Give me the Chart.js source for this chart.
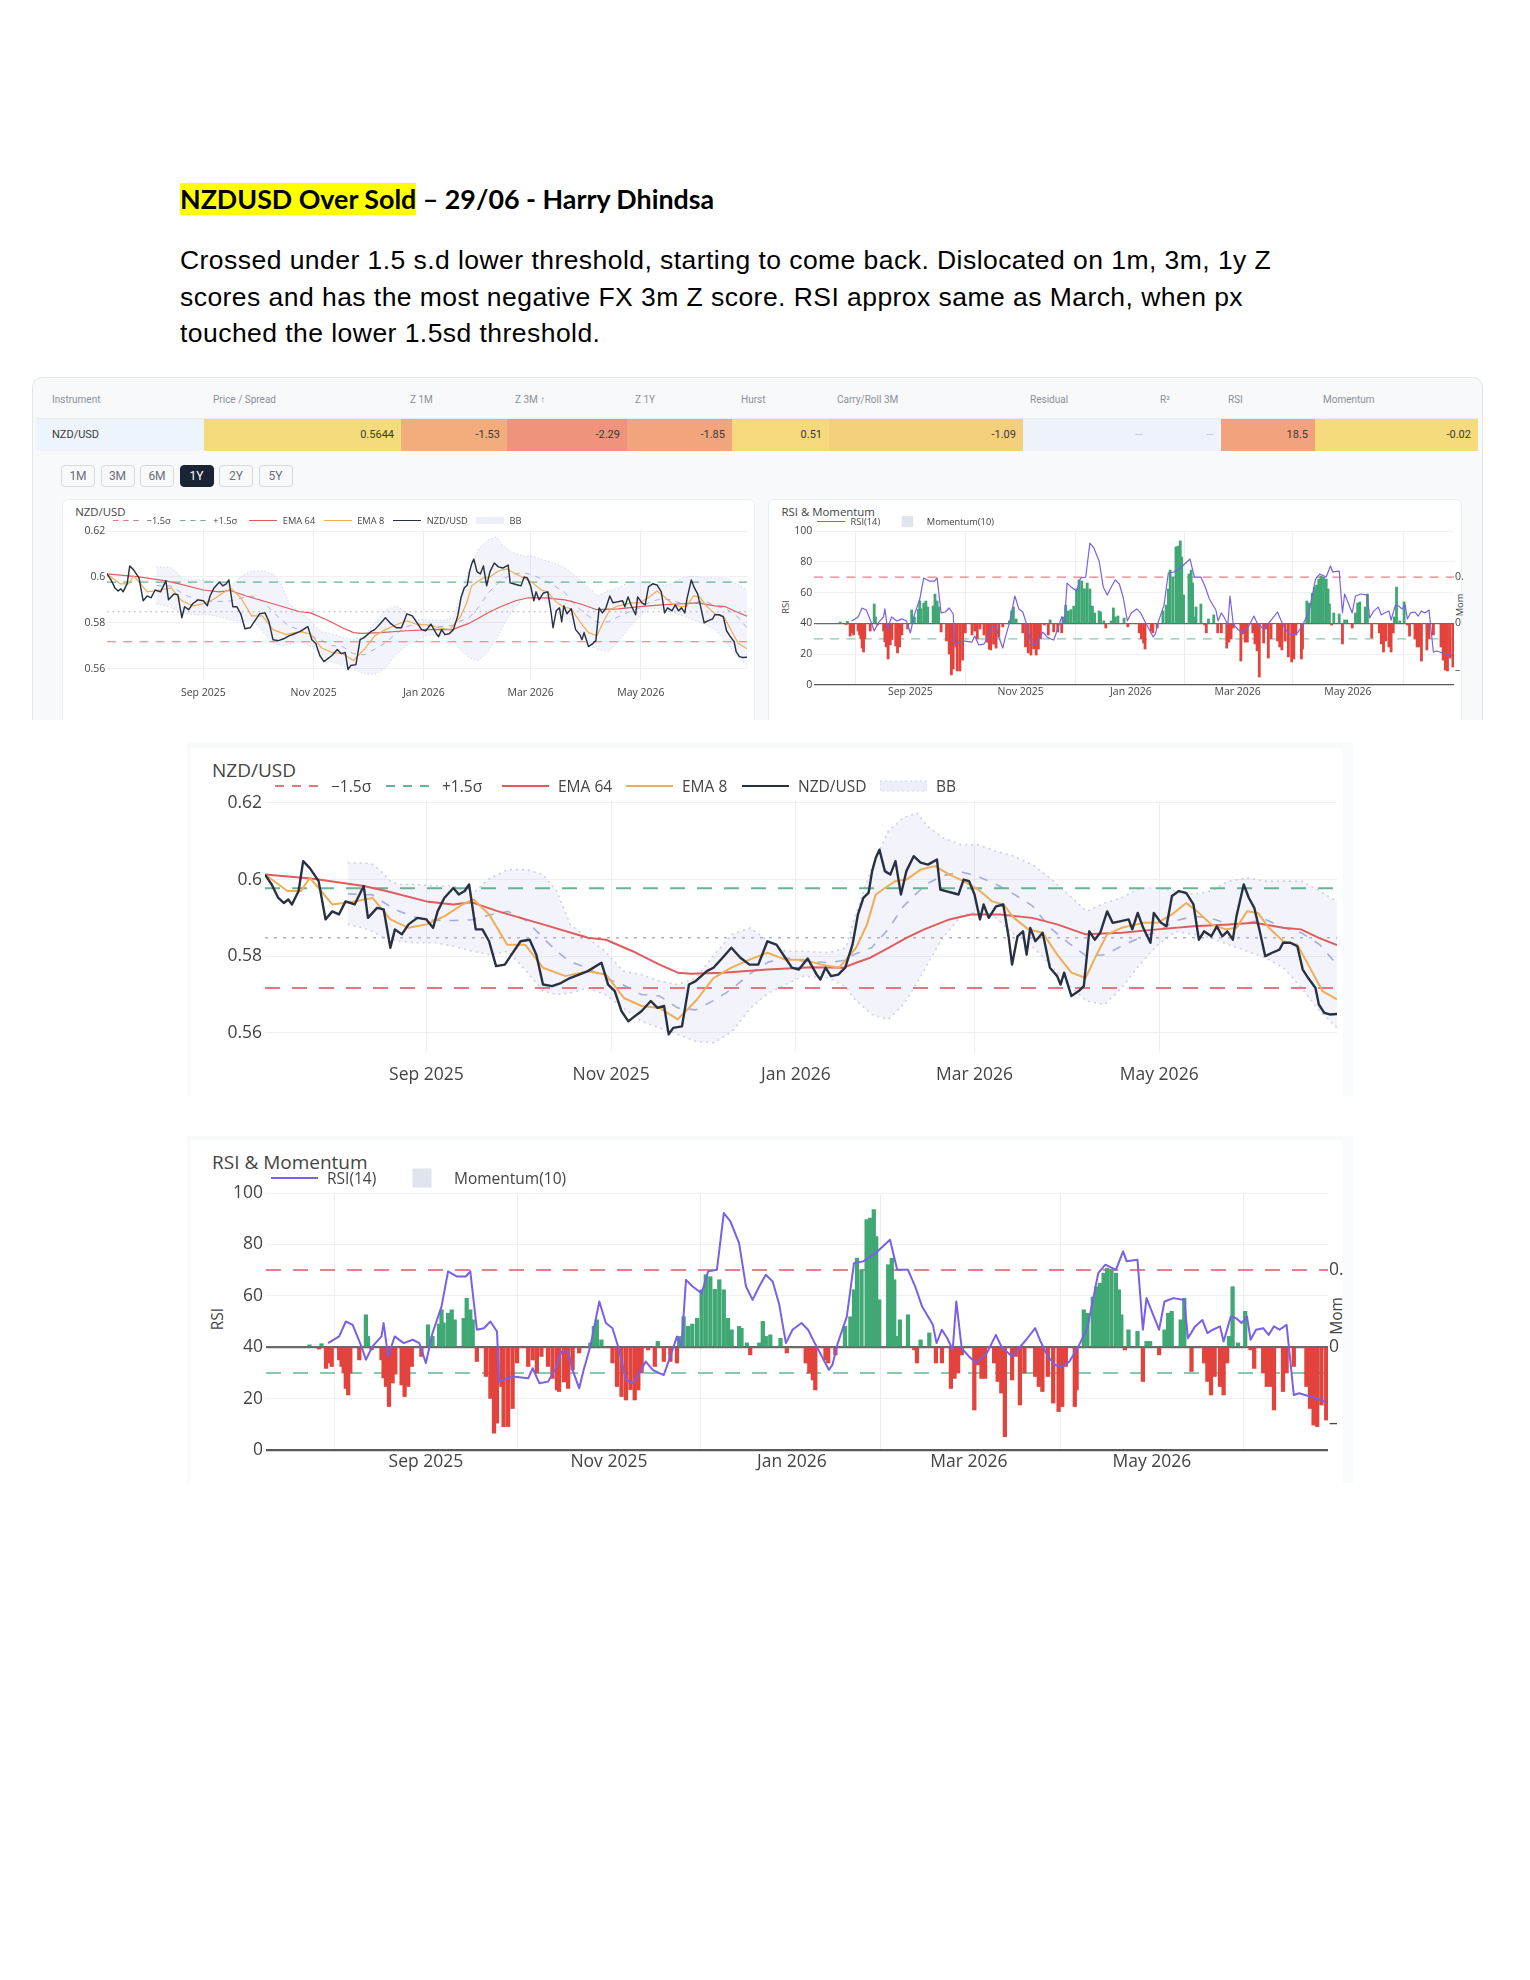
<!DOCTYPE html>
<html>
<head>
<meta charset="utf-8">
<script src="https://cdn.jsdelivr.net/npm/chart.js@4.4.1/dist/chart.umd.min.js"></script>
<style>
  body { margin: 0; background: #fff; }
  #page { position: relative; width: 1530px; height: 1980px; overflow: hidden; font-family: "Open Sans", sans-serif; color: #444; }
  .abs { position: absolute; }
  #title { left: 180px; top: 183px; font-family: Lato, sans-serif; font-weight: 700; font-size: 26.8px; line-height: 33px; color: #000; white-space: nowrap; }
  #title .hl { background: #ffff00; }
  #para { left: 180px; top: 242px; font-family: "Liberation Sans", Arial, sans-serif; font-size: 26.5px; letter-spacing: 0.45px; line-height: 36.6px; color: #000; white-space: nowrap; }
  #panel { left: 32px; top: 377px; width: 1451px; height: 343px; background: #f8f9fb; border: 1px solid #e3e6ec; border-bottom: none; border-radius: 10px 10px 0 0; box-sizing: border-box; overflow: hidden; }
  .th { font-family: Roboto, sans-serif; font-size: 10px; color: #8a9099; top: 394px; white-space: nowrap; }
  .td { top: 419px; height: 32px; line-height: 32px; font-family: Roboto, sans-serif; font-size: 11px; color: #3a3a3a; box-sizing: border-box; padding-right: 7px; text-align: right; white-space: nowrap; }
  .btn { top: 465px; width: 34px; height: 22px; line-height: 21px; box-sizing: border-box; border: 1px solid #d6dae1; border-radius: 4px; background: #f8f9fb; font-family: Roboto, sans-serif; font-size: 12px; color: #6a6f78; text-align: center; }
  .btn.on { background: #1b2435; color: #fff; border-color: #1b2435; }
  .card { background: #fff; border: 1px solid #eceef2; border-radius: 6px; box-sizing: border-box; }
  .ctitle { white-space: nowrap; color: #444; transform: translateY(-50%); }
  .lg { display: flex; align-items: center; white-space: nowrap; color: #444; transform: translateY(-50%); z-index: 2; }
  .rot { white-space: nowrap; color: #444; transform: translate(-50%, -50%) rotate(-90deg); }
  canvas { position: absolute; }
</style>
</head>
<body>
<div id="page">
  <div id="title" class="abs"><span class="hl">NZDUSD Over Sold</span> – 29/06 - Harry Dhindsa</div>
  <div id="para" class="abs">Crossed under 1.5 s.d lower threshold, starting to come back. Dislocated on 1m, 3m, 1y Z<br>scores and has the most negative FX 3m Z score. RSI approx same as March, when px<br>touched the lower 1.5sd threshold.</div>
  <div id="panel" class="abs"></div>
  <div class="abs card" style="left:62px;top:499px;width:693px;height:240px;"></div>
  <div class="abs card" style="left:768px;top:499px;width:694px;height:240px;"></div>
  <div class="abs" style="left:0;top:720px;width:1530px;height:20px;background:#fff;"></div>
  <div class="abs" style="left:187px;top:742px;width:1166px;height:354px;background:#f9fafc;"></div>
  <div class="abs" style="left:190px;top:748px;width:1153px;height:348px;background:#fff;"></div>
  <div class="abs" style="left:187px;top:1136px;width:1166px;height:347px;background:#f9fafc;"></div>
  <div class="abs" style="left:190px;top:1140px;width:1153px;height:343px;background:#fff;"></div>
</div>
<script>
// ---- x axis (days counted from 1 Sep 2025) ----
const xTickDays = [0, 61, 122, 181, 242];
const xTickLabels = ['Sep 2025', 'Nov 2025', 'Jan 2026', 'Mar 2026', 'May 2026'];
const xMin = -53.3, xMax = 300.7;

// ---- NZD/USD price ----
const priceDays = [-53.3,-51.1,-48.9,-47.1,-45.6,-44.4,-42.2,-40.7,-38.5,-35.6,-33.3,-31.1,-28.9,-26.7,-23.7,-20.7,-19.3,-16.3,-14.1,-11.9,-10.4,-8.1,-5.9,-3.0,0.0,2.2,3.7,5.9,8.9,10.7,12.6,14.1,16.3,18.5,20.7,23.0,25.9,28.1,31.1,34.1,36.3,38.5,41.5,44.4,47.4,50.4,53.3,57.8,60.0,62.2,64.4,66.7,68.1,71.1,74.1,76.3,78.5,80.0,81.5,84.4,86.7,88.9,92.6,94.8,97.8,100.7,103.7,106.7,109.6,112.6,115.6,118.5,120.7,123.0,125.9,128.9,130.1,131.8,133.6,136.0,138.3,140.7,142.5,144.3,146.0,147.2,148.4,149.6,151.4,153.2,154.9,156.7,158.5,160.9,163.2,165.6,168.6,169.7,171.5,173.9,175.7,177.4,179.2,181.0,182.8,184.0,185.7,188.1,190.5,192.3,193.4,195.2,197.0,198.2,199.4,201.1,203.5,205.9,208.3,209.4,210.6,213.0,215.4,217.1,218.9,220.7,222.5,224.8,226.6,229.0,231.9,233.1,234.9,236.7,239.1,240.2,242.6,244.4,246.2,248.5,250.9,253.3,255.1,256.8,259.2,261.0,262.8,264.5,266.3,267.5,269.9,271.6,273.4,275.2,277.0,279.3,281.7,282.9,285.3,287.6,289.4,291.2,293.6,294.7,296.5,298.3,300.7];
const priceVals = [0.6013,0.5987,0.5952,0.5939,0.5948,0.5935,0.5970,0.6048,0.6030,0.5996,0.5896,0.5917,0.5909,0.5943,0.5935,0.5983,0.5900,0.5926,0.5922,0.5822,0.5870,0.5857,0.5883,0.5900,0.5896,0.5874,0.5917,0.5952,0.5978,0.5961,0.5970,0.5987,0.5870,0.5870,0.5839,0.5774,0.5778,0.5804,0.5839,0.5843,0.5804,0.5726,0.5722,0.5730,0.5743,0.5752,0.5761,0.5783,0.5726,0.5709,0.5657,0.5630,0.5639,0.5657,0.5683,0.5665,0.5670,0.5596,0.5613,0.5617,0.5726,0.5735,0.5761,0.5770,0.5796,0.5822,0.5796,0.5778,0.5778,0.5839,0.5830,0.5796,0.5770,0.5765,0.5794,0.5752,0.5739,0.5770,0.5748,0.5752,0.5770,0.5830,0.5909,0.5952,0.5965,0.6022,0.6057,0.6078,0.6022,0.6013,0.6048,0.5961,0.6022,0.6061,0.6044,0.6039,0.6052,0.5974,0.5970,0.5965,0.5961,0.6000,0.5996,0.5961,0.5896,0.5935,0.5900,0.5930,0.5935,0.5848,0.5778,0.5852,0.5865,0.5804,0.5874,0.5839,0.5861,0.5770,0.5748,0.5726,0.5757,0.5696,0.5709,0.5722,0.5865,0.5843,0.5861,0.5917,0.5887,0.5891,0.5896,0.5870,0.5913,0.5874,0.5835,0.5913,0.5887,0.5878,0.5957,0.5970,0.5965,0.5935,0.5843,0.5865,0.5852,0.5878,0.5852,0.5865,0.5843,0.5904,0.5987,0.5952,0.5926,0.5865,0.5800,0.5809,0.5817,0.5835,0.5835,0.5826,0.5765,0.5743,0.5717,0.5674,0.5652,0.5648,0.5649];

// ---- EMA 64 ----
const ema64Days = [-53.3,-40.0,-35.6,-20.7,-13.3,0.0,8.9,14.8,23.7,38.5,53.3,59.3,68.1,77.0,83.0,87.4,97.8,112.6,127.4,137.8,141.9,146.6,152.6,158.5,164.4,172.7,179.8,189.3,200.0,208.3,217.7,229.6,241.4,253.3,265.1,273.4,282.9,288.8,294.7,300.7];
const ema64Vals = [0.6013,0.6004,0.6000,0.5983,0.5970,0.5943,0.5935,0.5941,0.5917,0.5883,0.5848,0.5843,0.5813,0.5778,0.5757,0.5754,0.5757,0.5765,0.5771,0.5770,0.5783,0.5796,0.5822,0.5848,0.5870,0.5896,0.5909,0.5909,0.5900,0.5883,0.5857,0.5861,0.5870,0.5878,0.5883,0.5887,0.5874,0.5870,0.5848,0.5829];

// ---- EMA 8 ----
const ema8Days = [-53.3,-45.9,-41.5,-38.5,-35.6,-31.1,-23.7,-17.8,-11.9,-5.9,0.0,5.9,11.9,15.6,20.7,26.7,32.6,38.5,45.9,53.3,59.3,65.2,71.1,77.0,83.0,88.9,94.8,100.7,106.7,112.6,118.5,124.4,130.4,136.3,141.9,145.5,148.4,151.4,154.9,158.5,163.2,168.0,172.7,177.4,182.2,186.9,190.5,194.0,198.8,203.5,208.3,213.0,217.7,221.3,224.8,229.6,236.7,241.4,246.2,250.9,254.5,259.2,264.0,267.5,271.0,274.6,278.2,282.9,287.6,291.2,295.9,300.7];
const ema8Vals = [0.6013,0.5970,0.5970,0.6004,0.5978,0.5935,0.5943,0.5952,0.5896,0.5874,0.5883,0.5904,0.5935,0.5948,0.5909,0.5830,0.5830,0.5770,0.5748,0.5761,0.5752,0.5691,0.5670,0.5665,0.5635,0.5683,0.5743,0.5770,0.5791,0.5809,0.5791,0.5791,0.5778,0.5770,0.5822,0.5883,0.5961,0.5978,0.5996,0.6000,0.6026,0.6035,0.6013,0.5996,0.5974,0.5943,0.5935,0.5900,0.5870,0.5861,0.5804,0.5757,0.5743,0.5804,0.5857,0.5874,0.5887,0.5887,0.5909,0.5939,0.5917,0.5883,0.5870,0.5874,0.5917,0.5913,0.5874,0.5839,0.5830,0.5778,0.5709,0.5687];

// ---- Bollinger bands ----
const bbDays = [-26,-21,-18,-15,-12,-9,-3,3,9,15,21,27,33,38.5,43,47.5,53,59,65,71,77,83,89,95,101,107,113,118.5,124.5,133,138.5,141,147,152.5,157.5,162,165.5,170.5,176.5,182,188,194,200,206,212,218,224,229.5,235.5,241.5,247.5,253.5,259,265,271,277,283,289,295,300.7];
const bbUpper = [0.6044,0.6043,0.6041,0.6022,0.5996,0.5987,0.5987,0.5983,0.5983,0.5961,0.6004,0.6026,0.6026,0.6013,0.5970,0.5883,0.5848,0.5813,0.5761,0.5752,0.5735,0.5726,0.5743,0.5804,0.5857,0.5874,0.5839,0.5813,0.5813,0.5809,0.5822,0.5891,0.6030,0.6126,0.6161,0.6174,0.6139,0.6109,0.6091,0.6091,0.6074,0.6061,0.6039,0.6004,0.5961,0.5917,0.5939,0.5952,0.5978,0.5978,0.5970,0.5961,0.5970,0.5996,0.6004,0.5996,0.5996,0.5996,0.5970,0.5943];
const bbLower = [0.5883,0.5874,0.5865,0.5852,0.5845,0.5839,0.5835,0.5835,0.5826,0.5813,0.5804,0.5813,0.5761,0.5709,0.5700,0.5704,0.5717,0.5700,0.5665,0.5630,0.5613,0.5596,0.5578,0.5574,0.5604,0.5665,0.5704,0.5726,0.5748,0.5743,0.5720,0.5691,0.5648,0.5635,0.5674,0.5730,0.5780,0.5848,0.5904,0.5917,0.5900,0.5857,0.5826,0.5778,0.5726,0.5683,0.5674,0.5717,0.5778,0.5830,0.5865,0.5857,0.5848,0.5830,0.5813,0.5796,0.5770,0.5717,0.5657,0.5613];
const bbMid = [0.5963,0.5960,0.5961,0.5945,0.5930,0.5917,0.5900,0.5893,0.5893,0.5895,0.5908,0.5917,0.5893,0.5848,0.5813,0.5785,0.5770,0.5743,0.5725,0.5700,0.5696,0.5665,0.5660,0.5685,0.5715,0.5755,0.5785,0.5796,0.5787,0.5783,0.5790,0.5804,0.5822,0.5870,0.5930,0.5965,0.5990,0.6010,0.6020,0.6009,0.5988,0.5962,0.5932,0.5874,0.5835,0.5800,0.5804,0.5826,0.5848,0.5865,0.5893,0.5904,0.5900,0.5883,0.5887,0.5896,0.5874,0.5861,0.5830,0.5778];

// ---- -1.5σ, mean, +1.5σ ----
const bandLevels = [0.5717, 0.5848, 0.5977];
const priceTicks = [0.56, 0.58, 0.6, 0.62];
const priceTickLabels = ['0.56', '0.58', '0.6', '0.62'];

// ---- RSI(14) ----
const rsiDays = [-32.6,-28.9,-26.7,-24.4,-21.5,-20.0,-17.8,-14.8,-14.1,-12.6,-10.4,-7.4,-4.4,-2.2,0.0,2.2,5.2,7.4,10.4,13.3,14.8,17.0,19.3,21.5,23.7,24.4,28.9,34.1,35.6,37.8,40.7,43.0,45.2,47.4,48.9,51.1,52.6,54.8,57.8,60.0,62.2,64.4,66.7,68.9,71.1,73.3,75.6,77.8,79.3,81.5,83.7,85.2,86.7,88.9,91.9,94.1,97.0,99.3,101.5,104.4,106.7,108.9,111.1,113.3,115.6,117.8,120.0,122.2,125.2,127.4,129.6,132.0,134.3,135.5,137.3,140.3,142.7,145.7,149.3,152.3,154.7,157.1,160.7,163.1,165.4,169.0,170.2,172.0,173.8,175.6,176.8,178.6,181.0,183.4,187.0,190.0,191.8,195.4,200.1,203.1,204.9,207.3,209.7,212.1,214.5,217.5,220.5,224.1,226.5,230.0,232.4,233.6,237.2,239.0,240.2,244.4,246.2,249.2,252.8,254.0,256.4,258.8,260.5,262.3,264.7,265.9,268.3,270.1,271.9,273.7,274.9,276.7,279.1,280.9,282.7,284.5,286.9,289.3,291.1,294.7,297.1,300.1];
const rsiVals = [41.6,44.2,50.0,48.7,40.3,35.1,40.3,44.2,49.4,36.4,44.2,41.6,42.9,41.6,33.8,45.5,55.8,69.5,67.5,67.5,69.5,46.8,47.4,50.0,46.1,26.6,28.6,27.9,31.8,26.0,26.6,31.2,38.3,38.3,31.2,24.0,31.2,40.3,57.8,49.4,47.4,39.0,27.3,26.0,29.9,34.4,31.2,29.9,29.2,36.4,44.2,40.3,66.2,63.6,61.0,69.5,70.1,92.2,89.0,80.5,63.6,58.4,63.6,68.2,65.6,56.5,41.6,46.8,49.4,46.8,41.6,36.4,31.2,33.1,41.6,51.9,72.7,73.4,76.0,79.2,81.8,70.1,70.1,63.6,55.8,48.7,41.6,46.8,43.5,39.0,57.8,39.6,36.4,33.8,37.7,44.8,40.3,36.4,42.9,47.4,42.2,36.4,33.1,32.5,34.4,40.3,47.4,68.8,72.1,70.1,77.3,73.4,74.0,46.8,59.1,46.8,57.8,59.1,58.4,43.5,48.1,50.6,45.5,46.8,48.1,42.2,51.9,51.3,49.4,51.9,42.9,46.8,47.4,44.8,48.1,46.8,48.7,21.4,22.1,20.8,20.1,18.5];
const rsiLevels = [30, 70];
const rsiTicks = [0, 20, 40, 60, 80, 100];

// ---- Momentum(10) ----
const momDays = [-38.8,-35.6,-34.8,-33.3,-32.3,-31.4,-28.9,-28.1,-27.4,-26.7,-25.9,-25.2,-22.2,-20.0,-19.3,-18.1,-14.8,-14.1,-13.3,-12.3,-11.1,-10.2,-8.1,-7.1,-5.9,-4.7,-1.5,0.7,2.2,4.4,5.2,5.9,7.4,8.6,9.6,12.6,13.6,14.8,15.6,17.0,20.0,21.5,22.7,23.7,25.2,25.9,27.4,28.9,30.4,34.1,35.6,37.0,38.5,40.7,42.2,43.7,44.4,46.0,47.4,48.9,51.1,54.8,56.0,57.0,58.5,62.2,63.7,65.2,66.7,68.2,69.6,70.8,71.9,74.1,76.3,77.3,79.3,81.5,83.7,84.4,85.9,87.4,88.8,90.4,91.9,93.3,94.8,96.3,97.8,99.3,100.7,101.9,104.4,105.2,107.0,108.1,111.1,112.3,113.3,114.8,118.2,120.3,126.6,127.8,129.0,129.8,133.2,134.1,136.5,139.7,141.5,142.7,143.7,145.2,146.9,148.1,149.3,150.1,151.1,154.1,155.3,156.1,156.8,158.0,160.7,162.8,163.7,164.9,167.8,170.0,172.0,175.0,176.2,177.4,178.6,182.8,184.0,185.2,186.4,189.4,190.6,191.8,193.0,195.4,196.6,198.0,199.5,203.1,204.3,205.5,207.3,209.1,210.9,212.1,213.3,216.3,216.9,219.3,220.5,222.3,223.5,224.7,225.9,227.1,228.5,230.0,231.0,231.8,233.0,234.2,237.2,239.0,240.2,241.4,244.4,246.2,247.4,248.6,251.6,252.8,255.2,259.4,260.5,261.7,262.9,264.7,265.9,267.1,267.7,268.9,270.7,273.1,274.9,276.1,279.1,280.3,281.5,282.7,285.7,286.9,289.3,293.5,294.7,295.9,297.1,298.5,300.1];
const momVals = [0.0006,-0.0005,0.0009,-0.0055,-0.0041,-0.0050,-0.0033,-0.0050,-0.0067,-0.0107,-0.0124,-0.0067,-0.0033,0.0084,0.0028,-0.0007,-0.0033,-0.0080,-0.0102,-0.0154,-0.0093,-0.0070,-0.0098,-0.0128,-0.0102,-0.0050,-0.0024,0.0058,0.0028,0.0060,0.0097,0.0063,0.0088,0.0097,0.0071,0.0075,0.0127,0.0097,0.0071,-0.0037,-0.0076,-0.0133,-0.0223,-0.0197,-0.0102,-0.0206,-0.0206,-0.0159,-0.0041,-0.0050,-0.0033,-0.0067,-0.0024,-0.0050,-0.0081,-0.0111,-0.0115,-0.0090,-0.0107,-0.0059,-0.0015,0.0011,0.0054,0.0071,0.0019,-0.0041,-0.0102,-0.0128,-0.0137,-0.0110,-0.0137,-0.0111,-0.0067,-0.0007,-0.0050,0.0015,-0.0037,-0.0037,-0.0041,0.0028,0.0079,0.0054,0.0060,0.0075,0.0149,0.0188,0.0183,0.0150,0.0175,0.0149,0.0075,0.0045,0.0054,0.0049,0.0011,-0.0020,0.0011,0.0067,0.0028,0.0032,0.0023,-0.0015,-0.0041,-0.0067,-0.0085,-0.0111,-0.0033,-0.0041,-0.0020,0.0054,0.0079,0.0149,0.0231,0.0200,0.0331,0.0335,0.0357,0.0287,0.0123,0.0214,0.0231,0.0175,0.0028,0.0071,0.0084,-0.0007,-0.0041,0.0019,0.0037,-0.0041,-0.0041,-0.0107,-0.0081,-0.0067,-0.0020,-0.0163,-0.0046,-0.0081,-0.0081,-0.0041,-0.0089,-0.0119,-0.0232,-0.0085,-0.0024,-0.0150,-0.0067,-0.0076,-0.0102,-0.0115,-0.0076,-0.0145,-0.0167,-0.0154,-0.0050,-0.0154,-0.0111,0.0097,0.0088,0.0130,0.0157,0.0166,0.0192,0.0205,0.0200,0.0192,0.0149,0.0084,-0.0007,0.0045,0.0041,-0.0089,0.0015,0.0015,-0.0020,0.0045,0.0088,0.0093,0.0071,0.0127,-0.0063,-0.0041,-0.0089,-0.0124,-0.0076,-0.0102,-0.0124,-0.0041,0.0028,0.0157,0.0011,0.0093,-0.0007,-0.0055,-0.0067,-0.0102,-0.0102,-0.0163,-0.0115,-0.0067,-0.0050,-0.0102,-0.0159,-0.0202,-0.0206,-0.0150,-0.0189];
const momTicks = [-0.02, 0, 0.02];
const momTickLabels = ['–', '0', '0.'];

// ---- summary table ----
const tableHeaders = ['Instrument', 'Price / Spread', 'Z 1M', 'Z 3M ↑', 'Z 1Y', 'Hurst', 'Carry/Roll 3M', 'Residual', 'R²', 'RSI', 'Momentum'];
const tableValues = ['NZD/USD', '0.5644', '-1.53', '-2.29', '-1.85', '0.51', '-1.09', '—', '—', '18.5', '-0.02'];
const rangeButtons = ['1M', '3M', '6M', '1Y', '2Y', '5Y'];

// ---------------------------------------------------------------
const page = document.getElementById('page');
const pts = (xs, ys) => xs.map((x, i) => ({ x, y: ys[i] }));

function el(cls, left, top, html, extra) {
  const d = document.createElement('div');
  d.className = 'abs ' + cls;
  d.style.left = left + 'px';
  if (top !== null) d.style.top = top + 'px';
  d.innerHTML = html;
  if (extra) Object.assign(d.style, extra);
  page.appendChild(d);
  return d;
}

// table
const cellLeft = [36, 204, 401, 507, 627, 732, 829, 1023, 1150, 1221, 1315, 1478];
const headLeft = [52, 213, 410, 515, 635, 741, 837, 1030, 1160, 1228, 1323];
const cellColors = ['#eef4fc', '#f4dc7c', '#f2ad7c', '#f0937c', '#f2a47c', '#f5d97c', '#f5d07c', '#eef3fb', '#eef3fb', '#f2a27c', '#f5db7c'];
tableHeaders.forEach((h, i) => el('th', headLeft[i], null, h));
tableValues.forEach((v, i) => {
  const c = el('td', cellLeft[i], null, v, { width: (cellLeft[i + 1] - cellLeft[i]) + 'px', background: cellColors[i] });
  if (i === 0) { c.style.textAlign = 'left'; c.style.paddingLeft = '16px'; }
  if (v === '—') c.style.color = '#c3c7cf';
});
page.appendChild(document.createElement('div')).style.cssText = 'position:absolute;left:36px;top:418px;width:1442px;height:1px;background:#e8ebf0';
rangeButtons.forEach((b, i) => el('btn' + (b === '1Y' ? ' on' : ''), 61 + i * 39.5, null, b));

// legend helpers
function sample(kind, color, s) {
  const w = 47 * s, h = 20 * s, m = h / 2, lw = 2 * s;
  let inner = '';
  if (kind === 'line') inner = `<line x1="0" y1="${m}" x2="${w}" y2="${m}" stroke="${color}" stroke-width="${lw}"/>`;
  if (kind === 'dash') inner = `<line x1="0" y1="${m}" x2="${w}" y2="${m}" stroke="${color}" stroke-width="${lw}" stroke-dasharray="${9 * s},${8 * s}"/>`;
  if (kind === 'band') inner = `<rect x="0" y="${m - 5 * s}" width="${w}" height="${10 * s}" fill="rgba(200,205,240,0.35)" stroke="#d3d6ea" stroke-width="${s}" stroke-dasharray="${2 * s},${3 * s}"/>`;
  if (kind === 'box') inner = `<rect x="${w / 2 - 9 * s}" y="${m - 9.5 * s}" width="${19 * s}" height="${19 * s}" fill="#dfe4ee"/>`;
  return `<svg width="${w}" height="${h}" style="display:block">${inner}</svg>`;
}
function legend(x0, y, s, items) {
  items.forEach(it => {
    el('lg', x0 + it.off * s, y,
      sample(it.kind, it.color, s) + `<span style="margin-left:${9 * s}px">${it.label}</span>`,
      { fontSize: (15.5 * s) + 'px' });
  });
}
const priceLegend = [
  { label: '−1.5σ', kind: 'dash', color: '#e37681', off: 10 },
  { label: '+1.5σ', kind: 'dash', color: '#68b394', off: 121 },
  { label: 'EMA 64', kind: 'line', color: '#e05c5c', off: 237 },
  { label: 'EMA 8', kind: 'line', color: '#efae55', off: 361 },
  { label: 'NZD/USD', kind: 'line', color: '#283041', off: 477 },
  { label: 'BB', kind: 'band', color: '', off: 615 }
];
const rsiLegend = [
  { label: 'RSI(14)', kind: 'line', color: '#7b5fe6', off: 5 },
  { label: 'Momentum(10)', kind: 'box', color: '', off: 132 }
];

function makeCanvas(g) {
  const c = document.createElement('canvas');
  c.width = g.w; c.height = g.h;
  c.style.left = g.left + 'px'; c.style.top = g.top + 'px';
  c.style.width = g.w + 'px'; c.style.height = g.h + 'px';
  page.appendChild(c);
  return c.getContext('2d');
}

function xScale(g) {
  return {
    type: 'linear', min: xMin, max: xMax, offset: false,
    afterFit: sc => { sc.height = g.xH; },
    afterBuildTicks: sc => { sc.ticks = xTickDays.map(v => ({ value: v })); },
    ticks: { callback: (v, i) => xTickLabels[i], font: { family: 'Open Sans', size: 17.5 * g.s }, color: '#444', padding: g.xPad, maxRotation: 0, autoSkip: false },
    grid: { color: '#eceef3', drawTicks: false },
    border: { display: false }
  };
}

const baseOpts = g => ({
  animation: false, responsive: false, maintainAspectRatio: false,
  layout: { padding: { top: g.padTop, right: g.padRight, left: 0, bottom: 0 } },
  plugins: { legend: { display: false }, tooltip: { enabled: false } },
  elements: { point: { radius: 0 }, line: { tension: 0, fill: false, borderJoinStyle: 'round' } }
});

function priceChart(g) {
  const s = g.s;
  const ctx = makeCanvas(g);
  const flat = v => pts([xMin, xMax], [v, v]);
  const opts = baseOpts(g);
  opts.scales = {
    x: xScale(g),
    y: {
      min: 0.555, max: 0.6205,
      afterFit: sc => { sc.width = g.yW; },
      afterBuildTicks: sc => { sc.ticks = priceTicks.map(v => ({ value: v })); },
      ticks: { callback: (v, i) => priceTickLabels[i], font: { family: 'Open Sans', size: 17.5 * s }, color: '#444', padding: 3 * s },
      grid: { color: '#eef0f4', drawTicks: false },
      border: { display: false }
    }
  };
  new Chart(ctx, {
    type: 'line',
    data: {
      datasets: [
        { data: pts(priceDays, priceVals), borderColor: '#283041', borderWidth: 2.4 * s, order: 1 },
        { data: pts(ema8Days, ema8Vals), borderColor: '#efae55', borderWidth: 2 * s, order: 2 },
        { data: pts(ema64Days, ema64Vals), borderColor: '#e05c5c', borderWidth: 2 * s, order: 3 },
        { data: flat(bandLevels[0]), borderColor: '#e37681', borderWidth: 2 * s, borderDash: [15 * s, 12 * s], order: 4 },
        { data: flat(bandLevels[2]), borderColor: '#68b394', borderWidth: 2 * s, borderDash: [15 * s, 12 * s], order: 5 },
        { data: flat(bandLevels[1]), borderColor: '#aeb1bf', borderWidth: 1.6 * s, borderDash: [3 * s, 6 * s], order: 6 },
        { data: pts(bbDays, bbMid), borderColor: '#a4acdc', borderWidth: 1.6 * s, borderDash: [9 * s, 9 * s], order: 7 },
        { data: pts(bbDays, bbUpper), borderColor: '#cdd0e4', borderWidth: 1.6 * s, borderDash: [2 * s, 4 * s], order: 9 },
        { data: pts(bbDays, bbLower), borderColor: '#cdd0e4', borderWidth: 1.6 * s, borderDash: [2 * s, 4 * s], fill: '-1', backgroundColor: 'rgba(188,194,236,0.2)', order: 8 }
      ]
    },
    options: opts
  });
}

function rsiChart(g) {
  const s = g.s;
  const ctx = makeCanvas(g);
  const flat = v => pts([xMin, xMax], [v, v]);
  const opts = baseOpts(g);
  opts.scales = {
    x: xScale(g),
    y: {
      min: 0, max: 100, position: 'left',
      afterFit: sc => { sc.width = g.yW; },
      afterBuildTicks: sc => { sc.ticks = rsiTicks.map(v => ({ value: v })); },
      ticks: { font: { family: 'Open Sans', size: 17.5 * s }, color: '#444', padding: 3 * s },
      grid: { color: c => c.tick.value === 0 ? '#5a5a5a' : '#eef0f4', lineWidth: c => c.tick.value === 0 ? 2.2 * s : 1, drawTicks: false },
      border: { display: false }
    },
    y1: {
      min: -0.02667, max: 0.04, position: 'right',
      afterFit: sc => { sc.width = g.y1W; },
      afterBuildTicks: sc => { sc.ticks = momTicks.map(v => ({ value: v })); },
      ticks: { callback: (v, i) => momTickLabels[i], font: { family: 'Open Sans', size: 17.5 * s }, color: '#444', padding: 1 },
      grid: { color: c => c.tick.value === 0 ? '#6a6a6a' : 'rgba(0,0,0,0)', lineWidth: 2.2 * s, drawTicks: false },
      border: { display: false }
    }
  };
  new Chart(ctx, {
    type: 'line',
    data: {
      datasets: [
        { data: pts(rsiDays, rsiVals), borderColor: '#7b5fe6', borderWidth: 2 * s, yAxisID: 'y', order: 1 },
        { type: 'bar', data: pts(momDays, momVals), yAxisID: 'y1', barThickness: 3.6 * s, grouped: false,
          backgroundColor: momVals.map(v => v >= 0 ? '#3fa874' : '#e2433c'), borderWidth: 0, order: 3 },
        { data: flat(rsiLevels[1]), borderColor: '#e78088', borderWidth: 2 * s, borderDash: [15 * s, 12 * s], yAxisID: 'y', order: 4 },
        { data: flat(rsiLevels[0]), borderColor: '#86c9ad', borderWidth: 2 * s, borderDash: [15 * s, 12 * s], yAxisID: 'y', order: 5 }
      ]
    },
    options: opts
  });
}

function priceBlock(g, plotLeft, titleY, legendY) {
  el('ctitle', plotLeft - 53 * g.s, titleY, 'NZD/USD', { fontSize: (19 * g.s) + 'px' });
  legend(plotLeft, legendY, g.s, priceLegend);
  priceChart(g);
}
function rsiBlock(g, plotLeft, plotRight, titleY, legendY, midY) {
  el('ctitle', plotLeft - 54 * g.s, titleY, 'RSI &amp; Momentum', { fontSize: (19 * g.s) + 'px' });
  legend(plotLeft, legendY, g.s, rsiLegend);
  el('rot', plotLeft - 49 * g.s, midY, 'RSI', { fontSize: (15.5 * g.s) + 'px' });
  el('rot', plotRight + 8 * g.s, midY - 3 * g.s, 'Mom', { fontSize: (15.5 * g.s) + 'px' });
  rsiChart(g);
}

// small dashboard charts
priceBlock({ left: 62, top: 515, w: 693, h: 185, padTop: 15, padRight: 8, yW: 45, xH: 20, xPad: 6.5, s: 0.6 }, 107, 511, 520);
rsiBlock({ left: 768, top: 515, w: 699, h: 185, padTop: 16, padRight: 0, yW: 46, y1W: 13, xH: 15, xPad: 1, s: 0.6 }, 814, 1454, 511, 521, 607);
// enlarged charts
priceBlock({ left: 187, top: 780, w: 1166, h: 315, padTop: 21, padRight: 16, yW: 78, xH: 43, xPad: 13, s: 1 }, 265, 770, 786);
rsiBlock({ left: 187, top: 1175, w: 1156, h: 300, padTop: 18, padRight: 0, yW: 79, y1W: 15, xH: 25, xPad: 2, s: 1 }, 266, 1328, 1162, 1178, 1319);
</script>
</body>
</html>
